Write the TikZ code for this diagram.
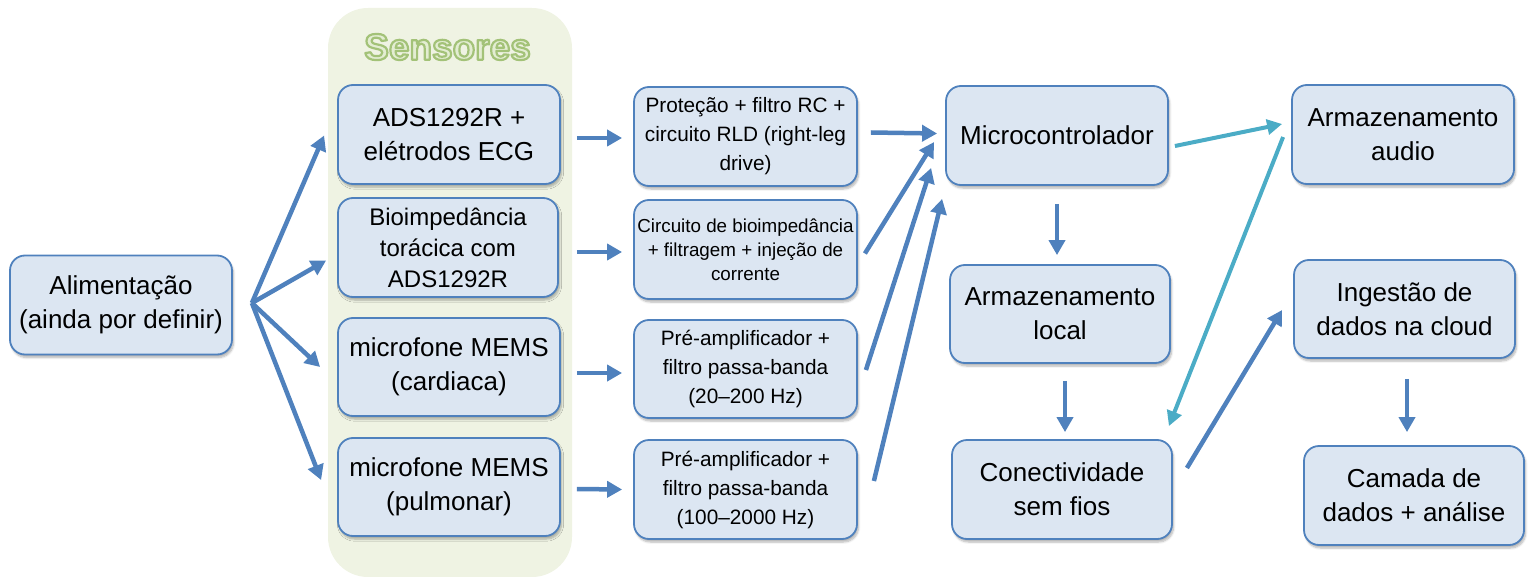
\documentclass[tikz,border=0pt]{standalone}
\usepackage{fontspec}
\setmainfont{Liberation Sans}
\usetikzlibrary{arrows.meta,calc,shadows.blur}

\definecolor{boxfill}{HTML}{DCE6F2}
\definecolor{boxline}{HTML}{4F81BD}
\definecolor{arrowblue}{HTML}{4F81BD}
\definecolor{arrowcyan}{HTML}{4BACC6}
\definecolor{panelfill}{HTML}{EFF3E3}
\definecolor{titlefill}{HTML}{E3EDD2}

% outlined heading text: fill plus a green stroke (text render mode 2)
\newcommand\outlinedtext[1]{%
  \special{pdf:literal direct 2 Tr 2.2 w 1 j 0.64 0.76 0.47 RG}#1%
  \special{pdf:literal direct 0 Tr}}

\tikzset{
  block/.style={draw=boxline, line width=1.8pt, fill=boxfill, rounded corners=15pt,
    align=center, inner sep=0pt, minimum width=222pt, minimum height=99pt,
    blur shadow={shadow xshift=1.5pt, shadow yshift=-3pt, shadow blur steps=6,
      shadow opacity=30}},
  bigtext/.style={font=\fontsize{26}{34}\selectfont},
  biotext/.style={font=\fontsize{24}{31}\selectfont},
  midtext/.style={font=\fontsize{20.8}{29}\selectfont},
  smalltext/.style={font=\fontsize{18.8}{24}\selectfont},
  flow/.style={draw=arrowblue, line width=4.5pt,
    -{Triangle[length=15pt,width=16pt]}},
  audioflow/.style={draw=arrowcyan, line width=4pt,
    -{Triangle[length=15pt,width=15pt]}},
  titletext/.style={font=\fontsize{37}{40}\selectfont\bfseries}
}

\begin{document}
\begin{tikzpicture}[x=1pt,y=-1pt]
\useasboundingbox (0,0) rectangle (1533,577);

% sensor group panel
\fill[panelfill, rounded corners=40pt] (328,8) rectangle (572,577);
\node[titletext, text=titlefill] (sensores) at (447.5,47) {\outlinedtext{Sensores}};

% power supply
\node[block, bigtext] (alim) at (121,305) {Alimentação\\(ainda por definir)};

% sensors
\node[block, bigtext] (s1) at (449,134.5) {ADS1292R +\\elétrodos ECG};
\node[block, biotext, minimum width=220pt] (s2) at (448,247.5) {Bioimpedância\\torácica com\\ADS1292R};
\node[block, bigtext, minimum height=98pt] (s3) at (449,367) {microfone MEMS\\(cardiaca)};
\node[block, bigtext, minimum height=98pt] (s4) at (449,487) {microfone MEMS\\(pulmonar)};

% analog front-ends
\node[block, midtext, minimum width=223pt] (f1) at (745.5,136.5) {Proteção + filtro RC +\\circuito RLD (right-leg\\drive)};
\node[block, smalltext, minimum width=223pt] (f2) at (745.5,249.5) {Circuito de bioimpedância\\+ filtragem + injeção de\\corrente};
\node[block, midtext, minimum width=223pt, minimum height=98pt] (f3) at (745.5,369) {Pré-amplificador +\\filtro passa-banda\\(20–200 Hz)};
\node[block, midtext, minimum width=223pt] (f4) at (745.5,489.5) {Pré-amplificador +\\filtro passa-banda\\(100–2000 Hz)};

% processing, storage and connectivity
\node[block, bigtext] (mcu) at (1057,135.5) {Microcontrolador};
\node[block, bigtext, minimum width=220pt, minimum height=98pt] (local) at (1060,314) {Armazenamento\\local};
\node[block, bigtext, minimum width=220pt] (conn) at (1062,489.5) {Conectividade\\sem fios};
\node[block, bigtext] (audio) at (1403,134.5) {Armazenamento\\audio};
\node[block, bigtext, minimum width=221pt, minimum height=98pt] (cloud) at (1404.5,309) {Ingestão de\\dados na cloud};
\node[block, bigtext, minimum width=220pt] (camada) at (1414,495.5) {Camada de\\dados + análise};

% power distribution
\coordinate (fan) at ($(alim.east)+(19,-2)$);
\draw[flow] (fan) -- ($(s1.west)+(-13,1)$);
\draw[flow] (fan) -- ($(s2.west)+(-11,13)$);
\draw[flow] (fan) -- ($(s3.west)+(-17,0)$);
\draw[flow] (fan) -- ($(s4.west)+(-16,-7)$);

% sensors to front-ends
\draw[flow] ($(s1.east)+(16,3.5)$) -- ($(f1.west)+(-11,1.5)$);
\draw[flow] ($(s2.east)+(18,4.5)$) -- ($(f2.west)+(-11,2.5)$);
\draw[flow] ($(s3.east)+(16,6)$) -- ($(f3.west)+(-11,4)$);
\draw[flow] ($(s4.east)+(16,2)$) -- ($(f4.west)+(-11,0)$);

% front-ends to microcontroller
\draw[flow] ($(f1.east)+(13,-4)$) -- ($(mcu.west)+(-8,-2)$);
\draw[flow] ($(f2.east)+(7,4)$) -- ($(mcu.west)+(-11,6.5)$);
\draw[flow] ($(f3.east)+(8,1)$) -- ($(mcu.west)+(-14,32.5)$);
\draw[flow] ($(f4.east)+(16,-8.5)$) -- ($(mcu.south west)+(-3,13)$);

% data path
\draw[flow] ($(mcu.south)+(0,18)$) -- ($(local.north)+(-3,-9)$);
\draw[flow] ($(local.south)+(5,17)$) -- ($(conn.north)+(3,-7)$);
\draw[audioflow] ($(mcu.east)+(6,10.5)$) -- ($(audio.west)+(-9,-10.5)$);
\draw[audioflow] ($(audio.west)+(-8,2.5)$) -- ($(conn.north east)+(-4,-13)$);
\draw[flow] ($(conn.east)+(14,-21.5)$) -- ($(cloud.west)+(-11,1)$);
\draw[flow] ($(cloud.south)+(2.5,20)$) -- ($(camada.north)+(-7,-13)$);
\end{tikzpicture}
\end{document}
